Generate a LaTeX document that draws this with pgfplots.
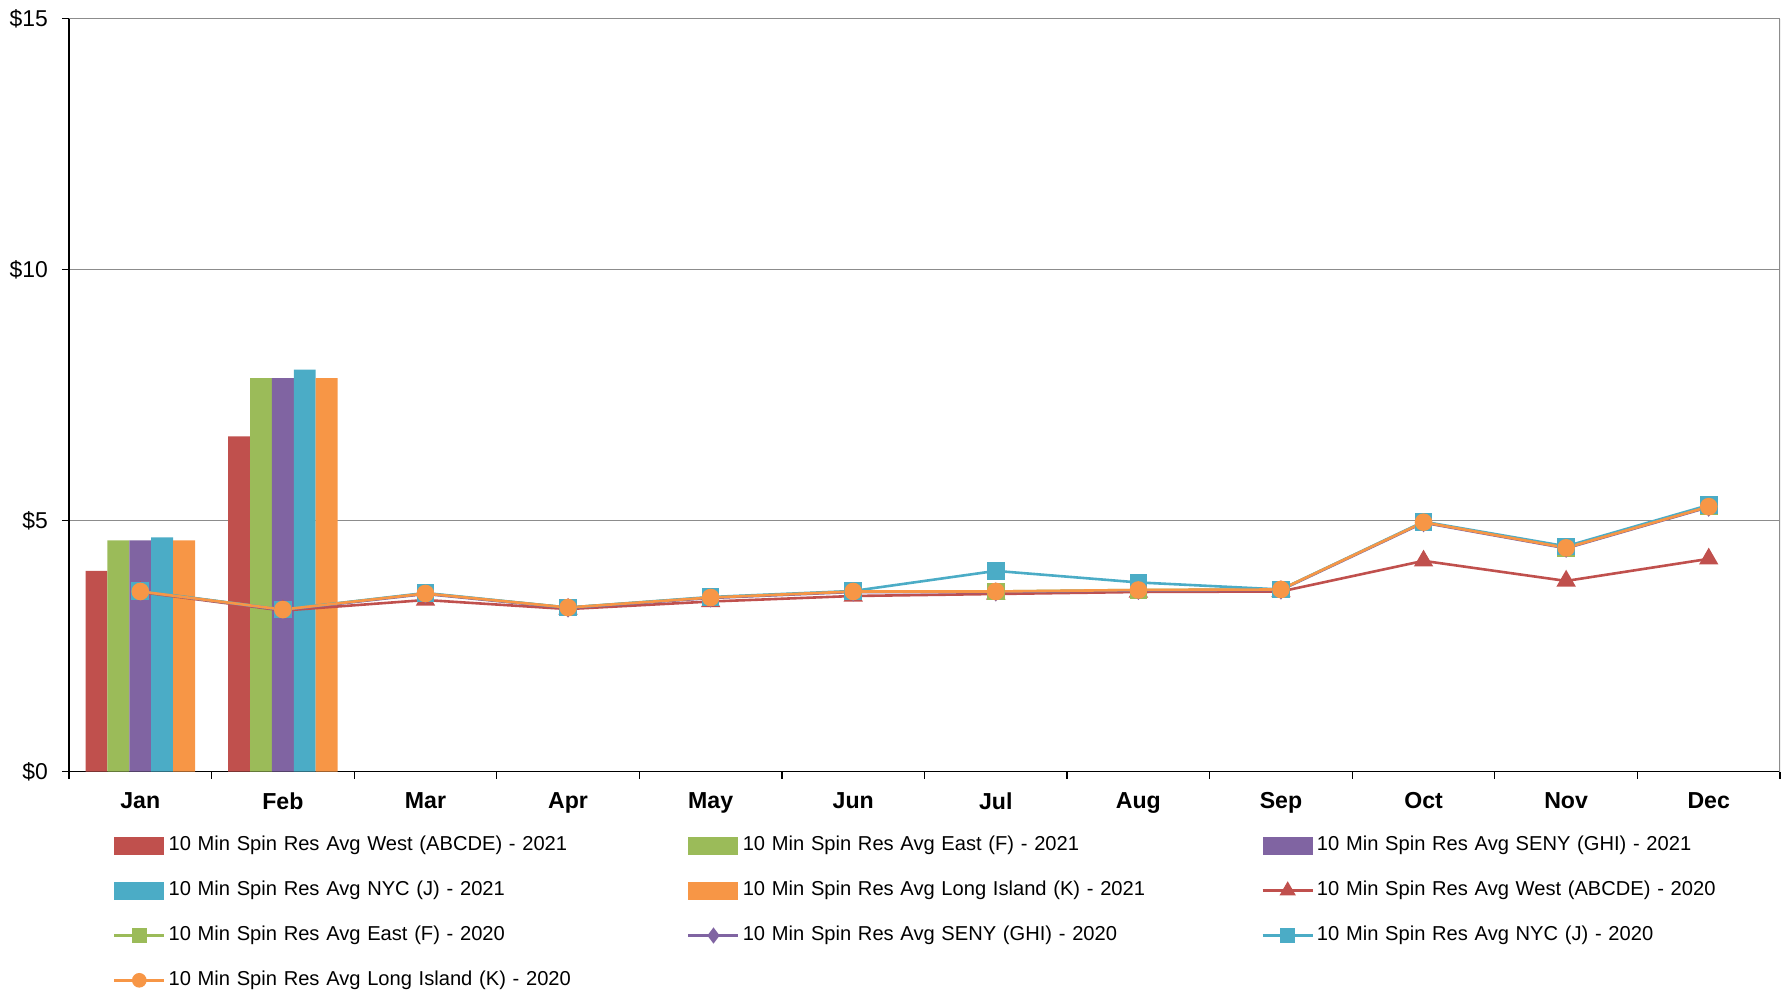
\documentclass[border=0pt]{standalone}
\usepackage{fontspec}
\setmainfont{Liberation Sans}
\usepackage{pgfplots}
\pgfplotsset{compat=1.18}
\definecolor{cRed}{HTML}{C0504D}
\definecolor{cGreen}{HTML}{9BBB59}
\definecolor{cPurple}{HTML}{8064A2}
\definecolor{cBlue}{HTML}{4BACC6}
\definecolor{cOrange}{HTML}{F79646}
\begin{document}
\begin{tikzpicture}
\useasboundingbox (-34.5bp,-111.15bp) rectangle (859bp,385.85bp);
\begin{axis}[
  at={(0,0)}, anchor=south west,
  scale only axis, width=855.5bp, height=376.5bp,
  xmin=-0.5, xmax=11.5, ymin=0, ymax=15,
  axis x line*=bottom, axis y line*=left,
  axis line style={black, line width=0.6bp},
  xtick={-0.5,0.5,...,11.5},
  x tick label as interval=true,
  xticklabels={Jan,Feb,Mar,Apr,May,Jun,Jul,Aug,Sep,Oct,Nov,Dec},
  ytick={0,5,10,15},
  yticklabels={\$0,\$5,\$10,\$15},
  tick align=outside,
  major tick length=3.5bp,
  tick style={black, line width=0.6bp},
  ymajorgrids, grid style={gray!90, line width=0.6bp},
  xticklabel style={font=\bfseries\fontsize{11.6}{13}\selectfont, yshift=-3.4bp},
  yticklabel style={font=\fontsize{11.5}{13}\selectfont, xshift=-3.5bp},
  /pgf/number format/assume math mode=true,
  legend columns=3,
  legend cell align=left,
  legend style={at={(axis description cs:0,0)}, anchor=north west,
    xshift=22bp, yshift=-32.1bp, draw=none, fill=none,
    inner sep=0pt, outer sep=0pt, row sep=12.4bp,
    font=\fontsize{10.1}{12}\selectfont,
    nodes={inner sep=0pt, text width=259.3bp, text height=7.5bp, text depth=2.5bp, anchor=west},
    /tikz/every odd column/.append style={column sep=1.5bp}},
  barleg/.style={legend image code/.code={\fill[##1] (0bp,-4.5bp) rectangle (25bp,4.5bp);}},
  lineleg/.style={legend image code/.code={\draw[##1, every mark/.append style={scale=0.8}, mark repeat=2, mark phase=2] plot coordinates {(0bp,0bp) (12.5bp,0bp) (25bp,0bp)};}},
]
% 2021 bars
\addplot[ybar, bar width=0.1535, bar shift=-0.307, fill=cRed, draw=none, barleg] coordinates {(0,4.00) (1,6.68)};
\addlegendentry{10 Min Spin Res Avg West (ABCDE) - 2021}
\addplot[ybar, bar width=0.1535, bar shift=-0.1535, fill=cGreen, draw=none, barleg] coordinates {(0,4.61) (1,7.84)};
\addlegendentry{10 Min Spin Res Avg East (F) - 2021}
\addplot[ybar, bar width=0.1535, bar shift=0, fill=cPurple, draw=none, barleg] coordinates {(0,4.61) (1,7.84)};
\addlegendentry{10 Min Spin Res Avg SENY (GHI) - 2021}
\addplot[ybar, bar width=0.1535, bar shift=0.1535, fill=cBlue, draw=none, barleg] coordinates {(0,4.67) (1,8.01)};
\addlegendentry{10 Min Spin Res Avg NYC (J) - 2021}
\addplot[ybar, bar width=0.1535, bar shift=0.307, fill=cOrange, draw=none, barleg] coordinates {(0,4.61) (1,7.84)};
\addlegendentry{10 Min Spin Res Avg Long Island (K) - 2021}
% 2020 lines
\addplot[cRed, line width=1.3bp, mark=triangle*, mark size=4.3bp, mark options={solid, fill=cRed, draw=cRed}, lineleg] coordinates {
(0,3.58) (1,3.21) (2,3.42) (3,3.24) (4,3.39) (5,3.50) (6,3.54) (7,3.58) (8,3.59) (9,4.20) (10,3.80) (11,4.24)};
\addlegendentry{10 Min Spin Res Avg West (ABCDE) - 2020}
\addplot[cGreen, line width=1.3bp, mark=square*, mark size=3.75bp, mark options={solid, fill=cGreen, draw=cGreen}, lineleg] coordinates {
(0,3.59) (1,3.23) (2,3.55) (3,3.27) (4,3.47) (5,3.59) (6,3.59) (7,3.62) (8,3.63) (9,4.97) (10,4.46) (11,5.28)};
\addlegendentry{10 Min Spin Res Avg East (F) - 2020}
\addplot[cPurple, line width=1.3bp, mark=diamond*, mark size=3.75bp, mark options={solid, fill=cPurple, draw=cPurple}, lineleg] coordinates {
(0,3.59) (1,3.22) (2,3.54) (3,3.26) (4,3.46) (5,3.58) (6,3.58) (7,3.61) (8,3.62) (9,4.96) (10,4.45) (11,5.27)};
\addlegendentry{10 Min Spin Res Avg SENY (GHI) - 2020}
\addplot[cBlue, line width=1.3bp, mark=square*, mark size=3.75bp, mark options={solid, fill=cBlue, draw=cBlue}, lineleg] coordinates {
(0,3.60) (1,3.23) (2,3.56) (3,3.27) (4,3.48) (5,3.60) (6,4.00) (7,3.77) (8,3.63) (9,4.98) (10,4.49) (11,5.31)};
\addlegendentry{10 Min Spin Res Avg NYC (J) - 2020}
\addplot[cOrange, line width=1.3bp, mark=*, mark size=3.75bp, mark options={solid, fill=cOrange, draw=cOrange}, lineleg] coordinates {
(0,3.59) (1,3.23) (2,3.55) (3,3.27) (4,3.47) (5,3.59) (6,3.59) (7,3.62) (8,3.63) (9,4.97) (10,4.46) (11,5.28)};
\addlegendentry{10 Min Spin Res Avg Long Island (K) - 2020}
\draw[gray!90, line width=0.6bp] (rel axis cs:1,0) -- (rel axis cs:1,1);
\end{axis}
\end{tikzpicture}
\end{document}
